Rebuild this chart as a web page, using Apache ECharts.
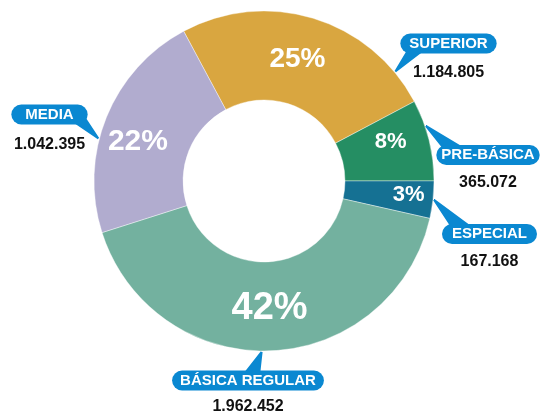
<!DOCTYPE html>
<html>
<head>
<meta charset="utf-8">
<script src="https://cdn.jsdelivr.net/npm/echarts@6/dist/echarts.min.js"></script>
<style>
  html, body { margin: 0; padding: 0; background: #fff; }
  #chart { width: 543px; height: 413px; }
</style>
</head>
<body>
<div id="chart"></div>
<script>
// data (clockwise from the top-left edge)
const categories = ['SUPERIOR', 'PRE-BÁSICA', 'ESPECIAL', 'BÁSICA REGULAR', 'MEDIA'];
const values = [1184805, 365072, 167168, 1962452, 1042395];
const percentLabels = ['25%', '8%', '3%', '42%', '22%'];

// styling
const colors = ['#D9A640', '#258E63', '#157193', '#73B19F', '#B1ACCF'];
const pctFontSize = [28, 22, 22, 38, 30];
const pctNudge = [[-4, 1], [2, -8], [17, 0], [0, -1], [-7, 9]];
const boxPad = [9, 5, 10, 8, 14];
const valueGap = [38, 36, 36, 32, 40];
const calloutBlue = '#0A88D1';
const FONT = 'Liberation Sans, Arial, sans-serif';
const CX = 264, CY = 181, R0 = 81, R = 170;

// callout box centre, tip angle on the ring, tail base offsets from box centre
const callouts = [
  { x: 448.5, y: 43.5, tip: 39.8, base: [[-40, 6], [-27, 8]] },
  { x: 488, y: 155, tip: 18.8, base: [[-43, -5], [-25, -7]] },
  { x: 489.5, y: 234, tip: -6.3, base: [[-37, -6], [-20, -8]] },
  { x: 248, y: 380.5, tip: -90.8, base: [[-5, -5], [11, -5]] },
  { x: 49.5, y: 114.5, tip: 165.6, base: [[21, 5], [35, 3]] }
];

function fmt(v) {
  return String(v).replace(/\B(?=(\d{3})+(?!\d))/g, '.');
}

function tailPoints(c) {
  const a = c.tip * Math.PI / 180;
  const tip = [CX + (R + 1) * Math.cos(a), CY - (R + 1) * Math.sin(a)];
  const pts = [];
  const steps = 10;
  for (let i = 0; i <= steps; i++) {
    const t = i / steps;
    const bx = c.x + c.base[0][0] + (c.base[1][0] - c.base[0][0]) * t;
    const by = c.y + c.base[0][1] + (c.base[1][1] - c.base[0][1]) * t;
    pts.push(tip.slice(), [bx, by]);
  }
  return pts;
}

function calloutRich(pad, gap) {
  return {
    b: {
      color: '#ffffff',
      fontWeight: 'bold',
      fontSize: 15,
      lineHeight: 20,
      height: 20,
      backgroundColor: calloutBlue,
      borderRadius: 10,
      padding: [0, pad, 0, pad],
      fontFamily: FONT
    },
    v: {
      color: '#111111',
      fontWeight: 'bold',
      fontSize: 16,
      lineHeight: gap,
      fontFamily: FONT
    }
  };
}

const mainData = categories.map((name, i) => ({
  name,
  value: values[i],
  itemStyle: { color: colors[i] },
  label: { fontSize: pctFontSize[i] }
}));

const calloutData = categories.map((name, i) => ({
  name,
  value: values[i],
  label: { rich: calloutRich(boxPad[i], valueGap[i]) }
}));

const chart = echarts.init(document.getElementById('chart'));
chart.setOption({
  animation: false,
  series: [
    {
      type: 'pie',
      center: [CX, CY],
      radius: [R0, R],
      startAngle: 118.2,
      clockwise: true,
      avoidLabelOverlap: false,
      silent: true,
      itemStyle: { borderColor: '#ffffff', borderWidth: 0.4 },
      label: {
        show: true,
        position: 'inside',
        color: '#ffffff',
        fontWeight: 'bold',
        fontFamily: FONT,
        formatter: p => percentLabels[p.dataIndex]
      },
      labelLayout: p => ({ dx: pctNudge[p.dataIndex][0], dy: pctNudge[p.dataIndex][1] }),
      data: mainData
    },
    {
      type: 'pie',
      center: [CX, CY],
      radius: [R0, R],
      startAngle: 118.2,
      clockwise: true,
      avoidLabelOverlap: false,
      silent: true,
      itemStyle: { color: 'rgba(0,0,0,0)' },
      label: {
        show: true,
        position: 'outside',
        fontFamily: FONT,
        formatter: p => '{b|' + p.name + '}\n{v|' + fmt(p.value) + '}',
        rich: calloutRich(9, 38)
      },
      labelLine: {
        show: true,
        length: 10,
        length2: 10,
        lineStyle: { color: calloutBlue, width: 2 }
      },
      labelLayout: p => {
        const c = callouts[p.dataIndex];
        return {
          x: c.x,
          y: c.y - 10,
          align: 'center',
          verticalAlign: 'top',
          labelLinePoints: tailPoints(c)
        };
      },
      data: calloutData
    }
  ]
});
</script>
</body>
</html>
